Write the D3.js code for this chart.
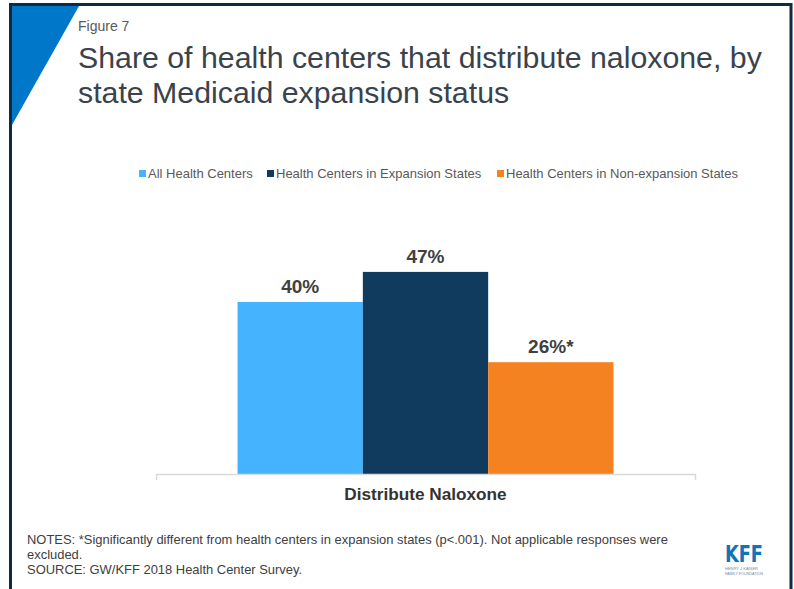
<!DOCTYPE html>
<html><head><meta charset="utf-8">
<script src="https://cdn.jsdelivr.net/npm/d3@7"></script>
<style>body{margin:0;background:#fff}svg{display:block}</style>
</head><body>
<svg id="c" width="794" height="589"></svg>
<script>
const categories = ["Distribute Naloxone"];
const seriesNames = ["All Health Centers", "Health Centers in Expansion States", "Health Centers in Non-expansion States"];
const seriesValues = [40, 47, 26];
const valueLabels = ["40%", "47%", "26%*"];
const colors = ["#45B3FE", "#103A5E", "#F58220"];

const svg = d3.select("#c");
const font = "Arial, 'Liberation Sans', sans-serif";

// frame
svg.append("path").attr("d","M10.5,589 V4.5 H791 V589").attr("fill","none").attr("stroke","#0E2A45").attr("stroke-width",3);
svg.append("path").attr("d","M12,6 L79,6 L12,125 Z").attr("fill","#0077C8");

svg.append("text").attr("x",78).attr("y",31).attr("font-family",font).attr("font-size",14).attr("fill","#595959").text("Figure 7");
const title = ["Share of health centers that distribute naloxone, by","state Medicaid expansion status"];
svg.append("text").attr("x",78).attr("y",68).attr("font-family",font).attr("font-size",30.3).attr("fill","#3A434C").text(title[0]);
svg.append("text").attr("x",78).attr("y",103).attr("font-family",font).attr("font-size",30.3).attr("fill","#3A434C").text(title[1]);

// legend
const legX = [139, 267, 497];
const leg = svg.append("g");
seriesNames.forEach((n,i)=>{
  leg.append("rect").attr("x",legX[i]).attr("y",170).attr("width",7).attr("height",7).attr("fill",colors[i]);
  leg.append("text").attr("x",legX[i]+9).attr("y",177.5).attr("font-family",font).attr("font-size",13).attr("fill","#595959").text(n);
});

// scales
const x0 = d3.scaleBand().domain(categories).range([156,695]).paddingInner(0).paddingOuter(0.2168);
const x1 = d3.scaleBand().domain(seriesNames).range([0, x0.bandwidth()]).padding(0);
const y = d3.scaleLinear().domain([0,50]).range([474,259]);

const g = svg.append("g");
categories.forEach(c=>{
  seriesNames.forEach((s,i)=>{
    g.append("rect").attr("x",x0(c)+x1(s)).attr("y",y(seriesValues[i])).attr("width",x1.bandwidth()).attr("height",y(0)-y(seriesValues[i])).attr("fill",colors[i]);
    g.append("text").attr("x",x0(c)+x1(s)+x1.bandwidth()/2).attr("y",y(seriesValues[i])-9).attr("text-anchor","middle")
      .attr("font-family",font).attr("font-size",19).attr("font-weight","bold").attr("fill","#404040").text(valueLabels[i]);
  });
});

// axis
const xAxis = d3.axisBottom(d3.scaleBand().domain(categories).range([156,695])).tickSize(0).tickFormat("");
const ax = svg.append("g").attr("transform","translate(0,474.5)").call(xAxis);
ax.select(".domain").remove();
svg.append("path").attr("d","M156.5,480 V474.5 H695.5 V480").attr("fill","none").attr("stroke","#D9D9D9").attr("stroke-width",1.5);
svg.append("text").attr("x",x0(categories[0])+x0.bandwidth()/2).attr("y",500).attr("text-anchor","middle")
  .attr("font-family",font).attr("font-size",17.2).attr("font-weight","bold").attr("fill","#333").text(categories[0]);

// notes
const notes = ["NOTES: *Significantly different from health centers in expansion states (p<.001). Not applicable responses were","excluded.","SOURCE: GW/KFF 2018 Health Center Survey."];
notes.forEach((t,i)=>{
  svg.append("text").attr("x",27).attr("y",544+i*15).attr("font-family",font).attr("font-size",12.95).attr("fill","#404040").text(t);
});

// logo
svg.append("text").attr("x",725).attr("y",562).attr("font-family","'DejaVu Sans Condensed', 'DejaVu Sans', sans-serif").attr("font-weight","bold").attr("font-size",23).attr("fill","#1173B8").attr("textLength",38).attr("lengthAdjust","spacingAndGlyphs").text("KFF");
svg.append("text").attr("x",725).attr("y",569.5).attr("font-family",font).attr("font-size",4).attr("fill","#6a8bb0").attr("textLength",33).attr("lengthAdjust","spacingAndGlyphs").text("HENRY J KAISER");
svg.append("text").attr("x",725).attr("y",574.5).attr("font-family",font).attr("font-size",4).attr("fill","#6a8bb0").attr("textLength",38).attr("lengthAdjust","spacingAndGlyphs").text("FAMILY FOUNDATION");
</script>
</body></html>
